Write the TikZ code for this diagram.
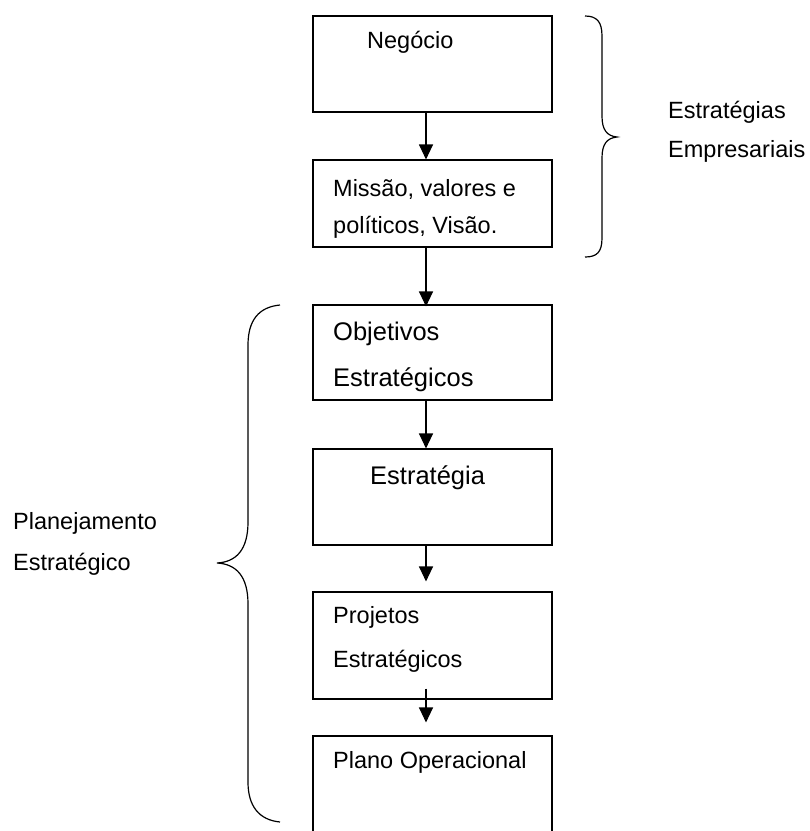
\documentclass[tikz,border=0pt]{standalone}
\usepackage{fontspec}
\setmainfont{Liberation Sans}
\usetikzlibrary{arrows.meta}
\begin{document}
\begin{tikzpicture}[x=1pt,y=-1pt,
  stepbox/.style={draw, line width=1.1pt, inner sep=0pt, minimum width=239pt},
  txt/.style={anchor=base west, inner sep=0pt, font=\fontsize{23.5}{28}\selectfont},
  bigtxt/.style={anchor=base west, inner sep=0pt, font=\fontsize{25.5}{30}\selectfont},
  arr/.style={line width=1.1pt, -{Triangle[width=14pt,length=15pt]}},
  brace/.style={line width=1.2pt}]
\useasboundingbox (0,0) rectangle (810,831);
\clip (0,0) rectangle (810,831);

% boxes of the flow
\node[stepbox, minimum height=96pt]  (b1) at (432.5,64)    {};
\node[stepbox, minimum height=87pt]  (b2) at (432.5,203.5) {};
\node[stepbox, minimum height=95pt]  (b3) at (432.5,352.5) {};
\node[stepbox, minimum height=96pt]  (b4) at (432.5,497)   {};
\node[stepbox, minimum height=107pt] (b5) at (432.5,645.5) {};
\node[stepbox, minimum height=140pt] (b6) at (432.5,806)   {};

% box texts
\node[txt]    (t1)  at (367,48.3)  {Negócio};
\node[txt]    (t2a) at (333,196.7) {Missão, valores e};
\node[txt]    (t2b) at (333,233)   {políticos, Visão.};
\node[bigtxt] (t3a) at (333,340.7) {Objetivos};
\node[bigtxt] (t3b) at (333,386)   {Estratégicos};
\node[bigtxt] (t4)  at (370,484)   {Estratégia};
\node[txt]    (t5a) at (333,623.3) {Projetos};
\node[txt]    (t5b) at (333,667)   {Estratégicos};
\node[txt]    (t6)  at (333,768)   {Plano Operacional};

% arrows run on a common vertical line
\coordinate (ax) at (426,0);
\draw[arr] (b1.south -| ax) -- (b2.north -| ax);
\draw[arr] (b2.south -| ax) -- ([yshift=-2pt]b3.north -| ax);
\draw[arr] (b3.south -| ax) -- (b4.north -| ax);
\draw[arr, shorten >=10pt] (b4.south -| ax) -- (b5.north -| ax);
\draw[arr, shorten <=-11pt, shorten >=13pt] (b5.south -| ax) -- (b6.north -| ax);

% right brace and its label
\draw[brace] (585,16) .. controls (597,16) and (602,22) .. (602,36)
  -- (602,116) .. controls (602,130) and (607,136) .. (617,137)
  .. controls (607,138) and (602,144) .. (602,158)
  -- (602,238) .. controls (602,252) and (597,257) .. (585,257);
\node[txt] (la) at (668,118.3) {Estratégias};
\node[txt] (lb) at (668,157)   {Empresariais};

% left brace and its label
\draw[brace] (280,305) .. controls (259,307) and (248,320) .. (248,345)
  -- (248,522) .. controls (248,550) and (236,562) .. (217,563)
  .. controls (236,564) and (248,576) .. (248,604)
  -- (248,782) .. controls (248,806) and (259,820) .. (280,822);
\node[txt] (lc) at (13,529) {Planejamento};
\node[txt] (ld) at (13,570) {Estratégico};
\end{tikzpicture}
\end{document}
